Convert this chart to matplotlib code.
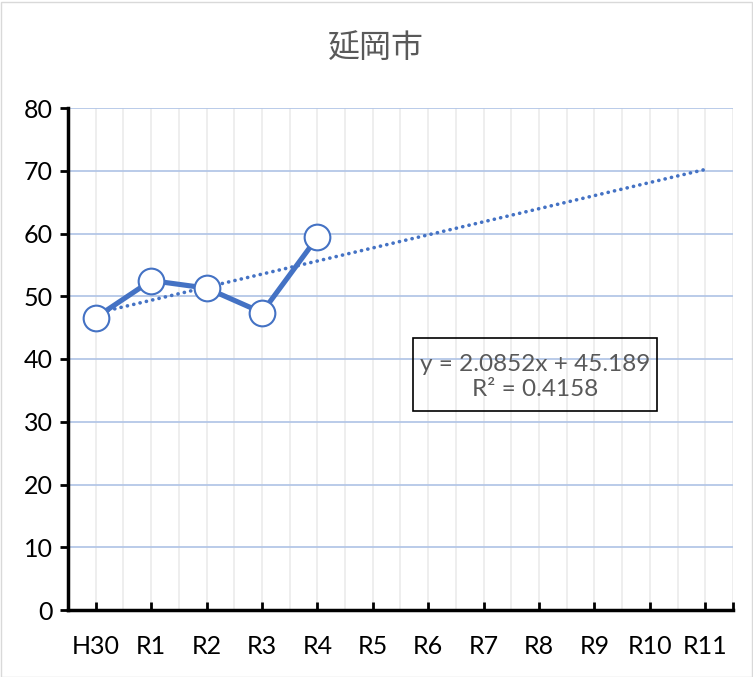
import matplotlib
matplotlib.use("Agg")
import matplotlib.pyplot as plt
import numpy as np
from matplotlib.patches import Rectangle

categories = ["H30", "R1", "R2", "R3", "R4", "R5", "R6", "R7", "R8", "R9", "R10", "R11"]
values = [46.6, 52.5, 51.3, 47.4, 59.4]
trend_slope = 2.0852
trend_intercept = 45.189
r_squared = 0.4158
y_ticks = [0, 10, 20, 30, 40, 50, 60, 70, 80]
title = "延岡市"

plt.rcParams['font.family'] = ['Lato', 'Noto Sans CJK JP', 'DejaVu Sans']

fig = plt.figure(figsize=(7.53, 6.77), dpi=100)
ax = fig.add_axes([68/753, 67/677, 665/753, 502/677])

blue = "#4472C4"
n = len(categories)
x_all = np.arange(n)

# gridlines
for xv in np.arange(-0.5, n, 0.5):
    ax.axvline(xv, color="#EBEBEB", lw=1.2, zorder=0)
for yv in y_ticks[1:]:
    ax.axhline(yv, color="#B4C7E7", lw=1.3, zorder=1)

# trendline
tx = np.arange(n)
ty = trend_slope * (tx + 1) + trend_intercept
ax.plot(tx, ty, color=blue, lw=2.6, linestyle=(0, (0.05, 1.75)), dash_capstyle="round", zorder=2)

# data line
xd = np.arange(len(values))
ax.plot(xd, values, color=blue, lw=3.7, zorder=3, solid_capstyle="round")
ax.plot(xd, values, linestyle="none", marker="o", markersize=18.5, markerfacecolor="white",
        markeredgecolor=blue, markeredgewidth=1.5, zorder=4)

ax.set_xlim(-0.5, n - 0.5)
ax.set_ylim(0, 80)
ax.set_yticks(y_ticks)
ax.set_yticklabels([str(v) for v in y_ticks], fontsize=18)
ax.set_xticks(list(x_all) + [n - 0.5])
ax.set_xticklabels(categories + [""], fontsize=18)
ax.tick_params(axis="y", direction="out", length=6, width=2, pad=5)
ax.tick_params(axis="x", direction="in", length=6, width=2, pad=18)

for s in ["top", "right"]:
    ax.spines[s].set_visible(False)
for s in ["left", "bottom"]:
    ax.spines[s].set_linewidth(2.5)
    ax.spines[s].set_color("black")

fig.text(376/753, 1 - 48/677, title, ha="center", va="center", fontsize=23, color="#595959",
         family=['Noto Sans CJK JP', 'DejaVu Sans'])

# equation box
eq_text = "y = {:.4f}x + {:.3f}\nR² = {:.4f}".format(trend_slope, trend_intercept, r_squared)
fig.text(535/753, 1 - 377/677, eq_text,
         ha="center", va="center", fontsize=17.5, color="#595959", linespacing=1.2)
fig.patches.append(Rectangle((413/753, 1 - 411/677), 244/753, 73/677, transform=fig.transFigure,
                             fill=False, edgecolor="black", lw=1.2))

# outer border
fig.patches.append(Rectangle((0.5/753, 0.5/677), 751/753, 675/677, transform=fig.transFigure,
                             fill=False, edgecolor="#D9D9D9", lw=1))

fig.savefig("out.png", dpi=100)
